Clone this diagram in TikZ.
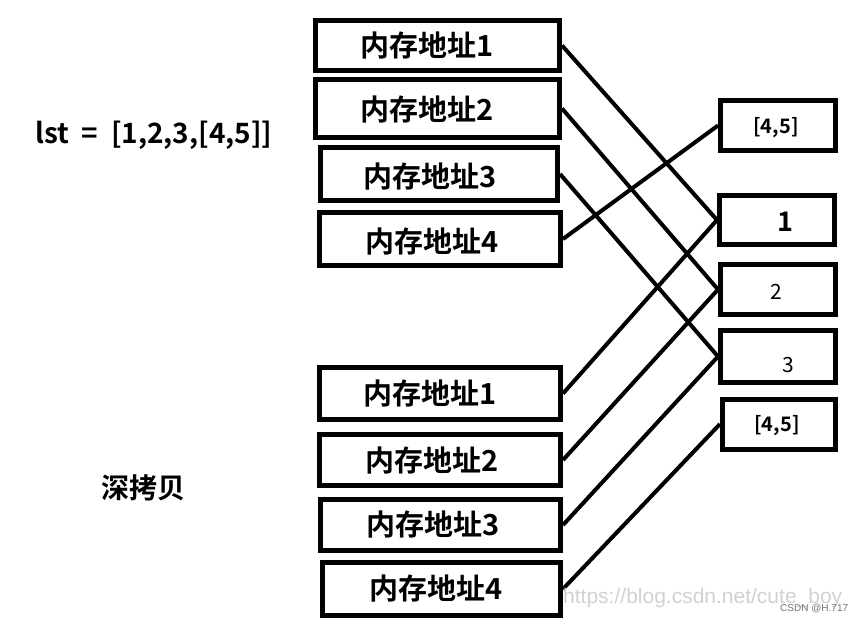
\documentclass[tikz,border=0pt]{standalone}
\usepackage{fontspec}
\setmainfont{Noto Sans CJK SC}[BoldFont={Noto Sans CJK SC Bold}]
\newfontfamily\wm{Liberation Sans}
\begin{document}
\begin{tikzpicture}[x=1pt,y=-1pt,
  box/.style={draw=black, line width=5pt, fill=white, inner sep=0pt},
  addr/.style={font=\fontsize{29}{32}\selectfont\bfseries},
  link/.style={line width=4pt, black},
  valbig/.style={font=\fontsize{27}{29}\selectfont\bfseries},
  valsm/.style={font=\fontsize{21}{24}\selectfont},
  listtxt/.style={font=\fontsize{20}{22}\selectfont\bfseries}]
\useasboundingbox (0,0) rectangle (864,623);
% top group
\node[box, minimum width=244pt, minimum height=50pt] (A1) at (437.5,45.5) {};
\node[box, minimum width=244pt, minimum height=58pt] (A2) at (437.5,108.5) {};
\node[box, minimum width=237pt, minimum height=53pt] (A3) at (439,174) {};
\node[box, minimum width=241pt, minimum height=53pt] (A4) at (440,239) {};
% bottom group
\node[box, minimum width=241pt, minimum height=52pt] (B1) at (440,393.5) {};
\node[box, minimum width=241pt, minimum height=51pt] (B2) at (440,460) {};
\node[box, minimum width=240pt, minimum height=51pt] (B3) at (440.5,525) {};
\node[box, minimum width=238pt, minimum height=53pt] (B4) at (441.5,589) {};
% right boxes
\node[box, minimum width=115pt, minimum height=50pt] (R45a) at (778,125.5) {};
\node[box, minimum width=115pt, minimum height=49pt] (R1) at (777,220) {};
\node[box, minimum width=115pt, minimum height=50pt] (R2) at (778,289.5) {};
\node[box, minimum width=115pt, minimum height=52pt] (R3) at (778,356.5) {};
\node[box, minimum width=113pt, minimum height=50pt] (R45b) at (779,424) {};
% texts
\node[addr] (tA1) at (427,46) {内存地址1};
\node[addr] (tA2) at (427,110) {内存地址2};
\node[addr] (tA3) at (430,177) {内存地址3};
\node[addr] (tA4) at (432,242) {内存地址4};
\node[addr] (tB1) at (430,394) {内存地址1};
\node[addr] (tB2) at (432,461) {内存地址2};
\node[addr] (tB3) at (433,525) {内存地址3};
\node[addr] (tB4) at (436,589) {内存地址4};
\node[listtxt] (v45a) at (776,128) {[4,5]};
\node[valbig] (v1) at (785,222) {1};
\node[valsm] (v2) at (776,292) {2};
\node[valsm] (v3) at (788,365) {3};
\node[listtxt] (v45b) at (777,426) {[4,5]};
\node[font=\fontsize{28}{30}\selectfont\bfseries] (lst) at (154,135) {lst\hspace{0.45em}=\hspace{0.45em}[1,2,3,[4,5]]};
\node[font=\fontsize{28}{30}\selectfont\bfseries] (deep) at (143,488) {深拷贝};
% links
\draw[link] (A1.east) -- (R1.west);
\draw[link] (A2.east) -- (R2.west);
\draw[link] (A3.east) -- (R3.west);
\draw[link] (A4.east) -- (R45a.west);
\draw[link] (B1.east) -- (R1.west);
\draw[link] (B2.east) -- (R2.west);
\draw[link] (B3.east) -- (R3.west);
\draw[link] (B4.east) -- (R45b.west);
% watermark
\node[font=\wm\fontsize{21}{23}\selectfont, text=black!18, anchor=west, inner sep=0pt] (url) at (563,598) {https://blog.csdn.net/cute\_boy};
\node[font=\wm\fontsize{10}{12}\selectfont, text=black!55, anchor=west, inner sep=0pt] (csdn) at (780,609) {CSDN @H.717};
\end{tikzpicture}
\end{document}
